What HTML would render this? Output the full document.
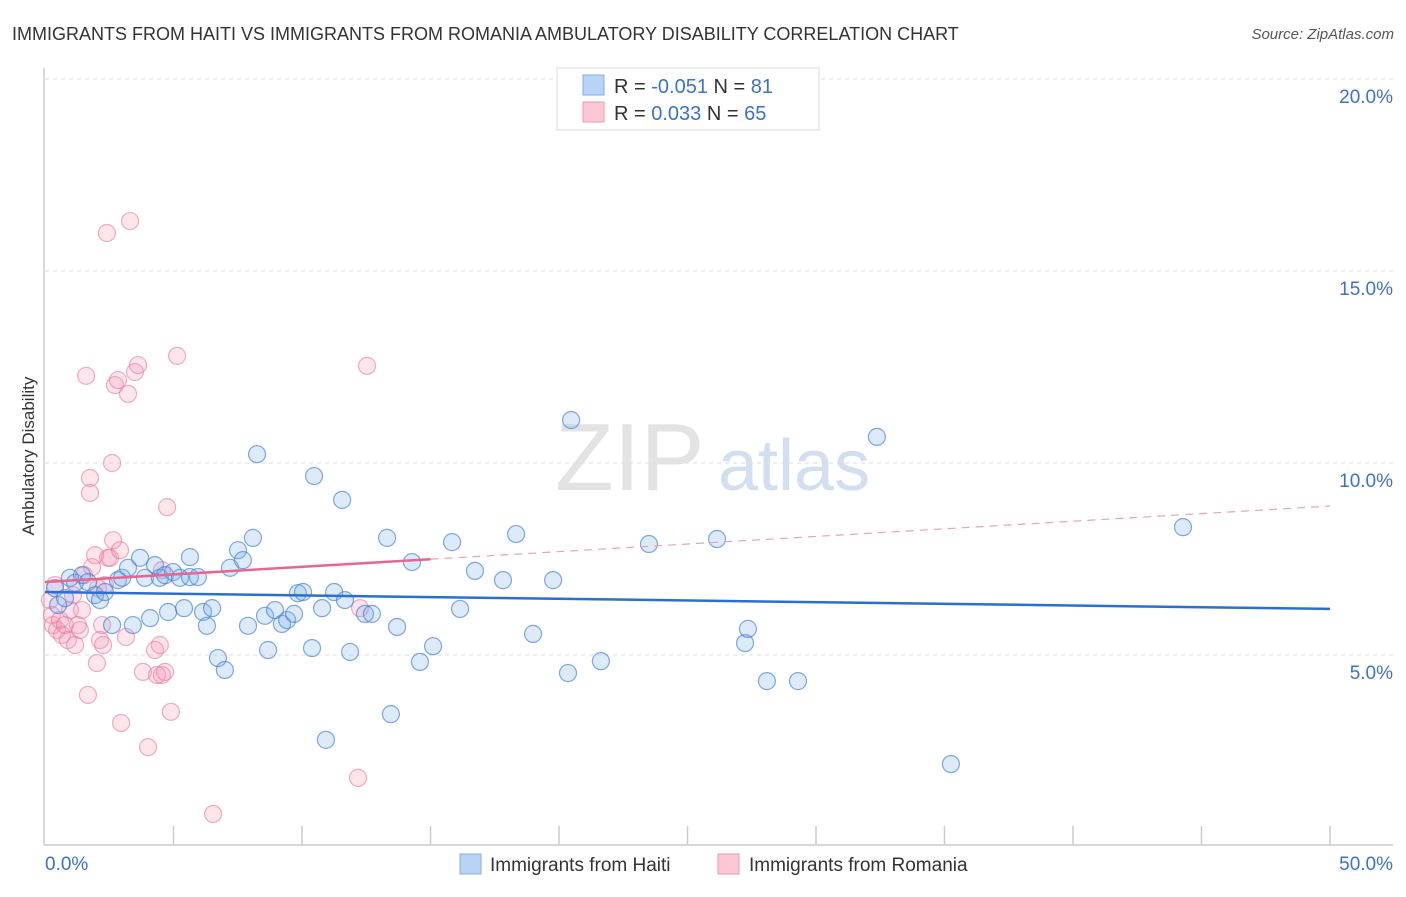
<!DOCTYPE html>
<html><head><meta charset="utf-8"><style>
body{margin:0;background:#fff;font-family:"Liberation Sans",sans-serif;}
svg text{font-family:"Liberation Sans",sans-serif;}
</style></head><body>
<svg id="chart" width="1406" height="892" xmlns="http://www.w3.org/2000/svg">
<text x="12" y="40" font-size="18" fill="#333">IMMIGRANTS FROM HAITI VS IMMIGRANTS FROM ROMANIA AMBULATORY DISABILITY CORRELATION CHART</text>
<text x="1394" y="39" font-size="15" fill="#555" text-anchor="end" font-style="italic">Source: ZipAtlas.com</text>
<text transform="translate(34,456) rotate(-90)" font-size="17" fill="#333" text-anchor="middle">Ambulatory Disability</text>
<g><text x="555" y="490" font-size="96" fill="#ddd" font-family="Liberation Serif" opacity="0.8">ZIP</text><text x="718" y="490" font-size="72" fill="#c8d8ee" opacity="0.8">atlas</text></g>
<g id="grid"></g><g id="axes"></g><g id="pts"></g><g id="trends"></g>
<g>
<rect x="557" y="68" width="262" height="62" fill="#fff" stroke="#ddd"/>
<rect x="583" y="75" width="21" height="20" fill="#b8d3f5" stroke="#86aee6"/>
<rect x="583" y="102" width="21" height="20" fill="#fcc7d6" stroke="#ef9ab4"/>
<text x="614" y="93" font-size="20" fill="#333">R = <tspan fill="#3b73c9">-0.051</tspan>   N = <tspan fill="#3b73c9"> 81</tspan></text>
<text x="614" y="120" font-size="20" fill="#333">R = <tspan fill="#3b73c9"> 0.033</tspan>   N = <tspan fill="#3b73c9">65</tspan></text>
</g>
<g>
<rect x="460" y="854" width="21" height="20" fill="#b8d3f5" stroke="#86aee6"/>
<text x="490" y="871" font-size="19" fill="#333">Immigrants from Haiti</text>
<rect x="718" y="854" width="21" height="20" fill="#fcc7d6" stroke="#ef9ab4"/>
<text x="749" y="871" font-size="19" fill="#333">Immigrants from Romania</text>
</g>
</svg>
<script>
const yTicks=[5,10,15,20];
const yTickLabels=["5.0%","10.0%","15.0%","20.0%"];
const xTicks=[0,5,10,15,20,25,30,35,40,45,50];
const haitiX=[0.39,0.51,0.78,0.97,1.17,1.44,1.67,1.95,2.14,2.33,2.61,2.84,3.00,3.23,3.42,3.70,3.89,4.09,4.28,4.47,4.67,4.79,4.98,5.25,5.41,5.64,5.64,5.95,6.15,6.30,6.50,6.73,7.00,7.20,7.51,7.70,7.90,8.09,8.25,8.56,8.68,8.95,9.22,9.42,9.69,9.84,10.04,10.39,10.47,10.78,10.93,11.25,11.56,11.67,11.87,12.45,12.72,13.31,13.46,13.70,14.28,14.59,15.10,15.84,16.15,16.73,17.82,18.33,18.99,19.77,20.35,20.47,21.63,23.50,26.15,27.24,27.35,28.09,29.30,32.37,35.25,44.28];
const haitiY=[6.74,6.30,6.48,7.01,6.88,7.08,6.90,6.56,6.43,6.64,5.78,6.95,7.01,7.27,5.78,7.53,7.01,5.96,7.34,7.01,7.08,6.12,7.16,7.01,6.22,7.55,7.03,7.03,6.12,5.76,6.22,4.92,4.61,7.27,7.73,7.47,5.76,8.05,10.23,6.02,5.13,6.17,5.81,5.91,6.07,6.61,6.64,5.18,9.66,6.22,2.79,6.64,9.04,6.43,5.08,6.07,6.07,8.05,3.46,5.73,7.42,4.82,5.23,7.94,6.20,7.19,6.95,8.15,5.55,6.95,4.53,11.12,4.84,7.89,8.02,5.31,5.68,4.32,4.32,10.68,2.16,8.33];
const romX=[0.19,0.27,0.31,0.39,0.47,0.58,0.66,0.78,0.89,0.97,1.09,1.17,1.28,1.36,1.44,1.52,1.60,1.67,1.75,1.75,1.83,1.95,2.02,2.06,2.14,2.22,2.26,2.33,2.41,2.45,2.53,2.61,2.65,2.72,2.84,2.92,2.96,3.15,3.23,3.31,3.50,3.62,3.81,4.01,4.28,4.36,4.47,4.55,4.55,4.67,4.75,4.90,5.14,6.54,12.18,12.26,12.53];
const romY=[6.43,6.04,5.78,6.82,5.65,5.91,5.52,5.78,5.39,6.17,6.56,5.26,5.78,5.65,6.17,7.08,12.27,3.96,9.61,9.22,7.29,7.60,4.79,6.74,5.39,5.78,5.26,6.82,15.99,7.53,7.53,10.00,7.99,12.03,12.16,7.73,3.23,5.47,11.80,16.30,12.37,12.55,4.56,2.60,5.13,4.48,5.26,7.21,4.48,4.56,8.85,3.52,12.79,0.86,1.80,6.22,12.53];
const haitiTrend=[6.64,6.20];
const romTrend=[6.90,8.88];
const romSolidEnd=15;

const NS="http://www.w3.org/2000/svg";
const X0=45,X1=1330,Y0=847,PX=38.4;
const sx=v=>X0+v/50*(X1-X0);
const sy=v=>Y0-v*PX;
function mk(tag,attrs,parent){const e=document.createElementNS(NS,tag);for(const k in attrs)e.setAttribute(k,attrs[k]);document.getElementById(parent).appendChild(e);return e;}
yTicks.forEach((t,i)=>{
 const l=mk('line',{x1:45,x2:1393,y1:sy(t),y2:sy(t),stroke:'#ddd','stroke-dasharray':'4,4'},'grid');
 
 
 const tx=mk('text',{x:1393,y:sy(t)+24,'font-size':19,fill:'#3b73c9','text-anchor':'end'},'grid');
 tx.textContent=yTickLabels[i];
 
 
});
const ax=mk('line',{x1:44,x2:44,y1:68,y2:845,stroke:'#ccc','stroke-width':1.5},'axes');


const bx=mk('line',{x1:44,x2:1393,y1:845,y2:845,stroke:'#ccc','stroke-width':1.5},'axes');


xTicks.forEach(t=>{
 if(t===0)return;
 const l=mk('line',{x1:sx(t),x2:sx(t),y1:826,y2:845,stroke:'#ccc','stroke-width':1.5},'axes');
 
 
});
const xl=mk('text',{x:45,y:870,'font-size':19,fill:'#3b73c9'},'axes');xl.textContent='0.0%';


const xr=mk('text',{x:1393,y:870,'font-size':19,fill:'#3b73c9','text-anchor':'end'},'axes');xr.textContent='50.0%';


romX.forEach((v,i)=>{
 const c=mk('circle',{cx:sx(v),cy:sy(romY[i]),r:8.5,fill:'rgba(246,150,180,0.25)',stroke:'rgba(235,120,155,0.6)','stroke-width':1.2},'pts');
 
 
});
haitiX.forEach((v,i)=>{
 const c=mk('circle',{cx:sx(v),cy:sy(haitiY[i]),r:8.5,fill:'rgba(120,170,235,0.25)',stroke:'rgba(60,125,215,0.65)','stroke-width':1.2},'pts');
 
 
});
const ht=mk('line',{x1:sx(0),y1:sy(haitiTrend[0]),x2:sx(50),y2:sy(haitiTrend[1]),stroke:'#2a6fd6','stroke-width':2.5},'trends');


const rMid=romTrend[0]+(romTrend[1]-romTrend[0])*romSolidEnd/50;
const rs=mk('line',{x1:sx(0),y1:sy(romTrend[0]),x2:sx(romSolidEnd),y2:sy(rMid),stroke:'#e8668e','stroke-width':2.5},'trends');


const rd=mk('line',{x1:sx(romSolidEnd),y1:sy(rMid),x2:sx(50),y2:sy(romTrend[1]),stroke:'#eda0b8','stroke-width':1.2,'stroke-dasharray':'8,6'},'trends');


</script>
</body></html>
